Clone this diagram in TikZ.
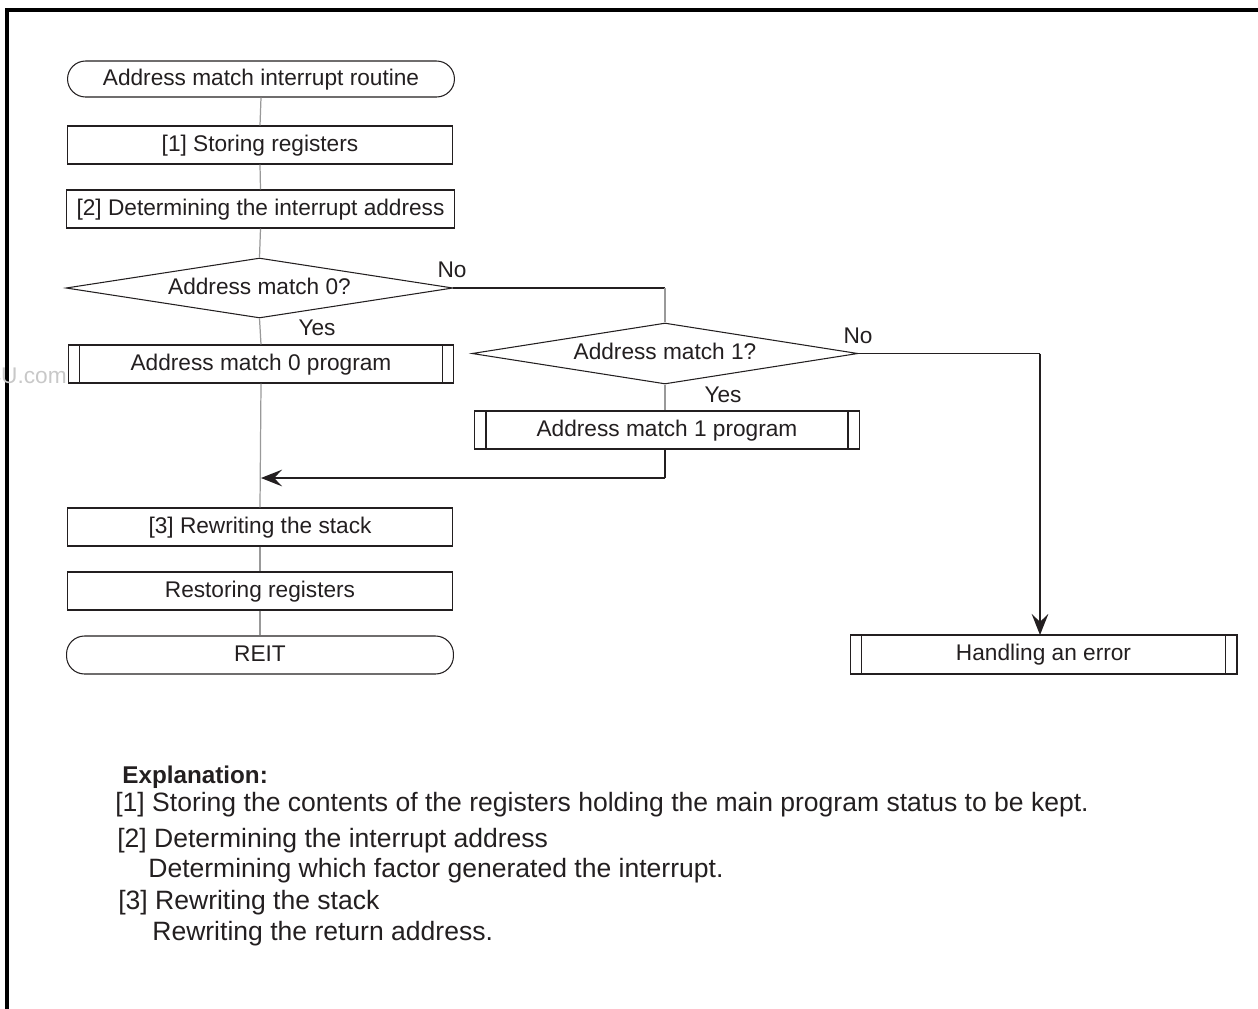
\documentclass[tikz,border=0pt]{standalone}
\usepackage{fontspec}
\setmainfont{Liberation Sans}
\usetikzlibrary{shapes.geometric,arrows.meta,calc}
\definecolor{ink}{HTML}{231F20}
\definecolor{conn}{HTML}{999999}
\definecolor{wm}{HTML}{C8C8C8}
\begin{document}
\begin{tikzpicture}[x=0.02cm,y=-0.02cm,
  font=\fontsize{12.9}{15}\selectfont, text=ink,
  shp/.style={draw=ink, line width=0.6pt, inner sep=0pt, fill=white, text height=0.93em, text depth=0.21em},
  proc/.style={shp, rectangle, minimum width=7.72cm, minimum height=0.76cm},
  term/.style={shp, rectangle, rounded corners=0.36cm, minimum width=7.74cm, minimum height=0.72cm},
  dec/.style={shp, diamond, aspect=6.45, minimum width=7.74cm, minimum height=1.2cm},
  subr/.style={proc},
  vline/.style={draw=conn, line width=0.7pt},
  hline/.style={draw=ink, line width=0.7pt},
  arr/.style={-{Stealth[length=12pt,width=9.5pt,inset=4.5pt]}},
  lbl/.style={inner sep=0pt},
  expl/.style={anchor=base west, inner sep=0pt, font=\fontsize{15.1}{18}\selectfont},
  frameline/.style={draw=black, line width=1.9pt}
]
\useasboundingbox (0,0) rectangle (1258,1008);
% frame
\coordinate (ftl) at (7,10);
\coordinate (ftr) at (1260,10);
\coordinate (fbl) at (7,1010);
\draw[frameline] (ftr) -- (ftl) -- (fbl);

% watermark (cut by the left edge, as in the reference)
\node[lbl, anchor=east, text=wm] (wmk) at (67,376) {4U.com};

% nodes
\node[term] (start) at (261,79) {Address match interrupt routine};
\node[proc] (b1) at (260,145) {[1] Storing registers};
\node[proc, minimum width=7.78cm] (b2) at (260.5,209) {[2] Determining the interrupt address};
\node[dec] (d0) at (259.5,288) {Address match 0?};
\node[subr] (s0) at (261,364) {Address match 0 program};
\node[dec, minimum width=7.72cm, minimum height=1.22cm] (d1) at (665,353.5) {Address match 1?};
\node[subr, minimum width=7.7cm] (s1) at (667,430) {Address match 1 program};
\node[proc] (b3) at (260,527) {[3] Rewriting the stack};
\node[proc] (b4) at (260,591) {Restoring registers};
\node[term, minimum height=0.76cm] (reit) at (260,655) {REIT};
\node[subr, minimum width=7.74cm, minimum height=0.78cm] (err) at (1043.5,654.5) {Handling an error};

% subroutine bars
\foreach \n in {s0,s1,err}{
  \draw[draw=ink, line width=0.6pt] ([xshift=0.24cm]\n.north west) -- ([xshift=0.24cm]\n.south west);
  \draw[draw=ink, line width=0.6pt] ([xshift=-0.24cm]\n.north east) -- ([xshift=-0.24cm]\n.south east);
}

% connectors
\coordinate (c0) at (665,288);
\coordinate (j) at (261,478);
\coordinate (c1) at (665,478);
\coordinate (c2) at (1040,353.5);
\coordinate (eT) at (1040,635);
\draw[vline] (start.south) -- (b1.north);
\draw[vline] (b1.south) -- (b2.north);
\draw[vline] (b2.south) -- (d0.north);
\draw[vline] (d0.south) -- (s0.north);
\draw[vline] (s0.south) -- (b3.north);
\draw[vline] (b3.south) -- (b4.north);
\draw[vline] (b4.south) -- (reit.north);
\draw[hline] (d0.east) -- (c0);
\draw[vline] (c0) -- (d1.north);
\draw[vline] (d1.south) -- (d1.south |- s1.north);
\draw[hline] (d1.south |- s1.south) -- (c1);
\draw[hline, arr] (c1) -- (j);
\draw[hline] (d1.east) -- (c2);
\draw[hline, arr] (c2) -- (eT);

% labels
\node[lbl] (no0) at (452,270) {No};
\node[lbl] (yes0) at (317,328) {Yes};
\node[lbl] (no1) at (858,336) {No};
\node[lbl] (yes1) at (723,395) {Yes};

% explanation
\node[expl, font=\fontsize{13.8}{16}\selectfont\bfseries] (ex0) at (122,783) {Explanation:};
\node[expl] (ex1) at (115,811) {[1] Storing the contents of the registers holding the main program status to be kept.};
\node[expl] (ex2) at (117,847) {[2] Determining the interrupt address};
\node[expl] (ex3) at (148,877) {Determining which factor generated the interrupt.};
\node[expl] (ex4) at (118,909) {[3] Rewriting the stack};
\node[expl] (ex5) at (152,940) {Rewriting the return address.};
\end{tikzpicture}
\end{document}
